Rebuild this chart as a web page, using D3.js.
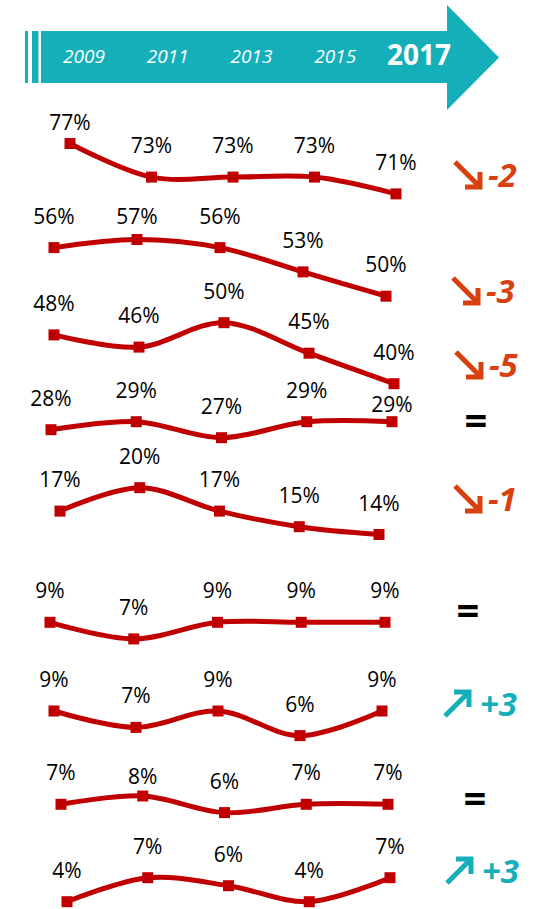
<!DOCTYPE html>
<html>
<head>
<meta charset="utf-8">
<script src="https://cdn.jsdelivr.net/npm/d3@7"></script>
<style>
  html, body { margin: 0; padding: 0; background: #fff; }
  svg { display: block; font-family: 'Open Sans', sans-serif; }
</style>
</head>
<body>
<svg id="chart" width="534" height="909"></svg>
<script>
const years = ['2009', '2011', '2013', '2015', '2017'];

const row1 = [77, 73, 73, 73, 71];
const row2 = [56, 57, 56, 53, 50];
const row3 = [48, 46, 50, 45, 40];
const row4 = [28, 29, 27, 29, 29];
const row5 = [17, 20, 17, 15, 14];
const row6 = [9, 7, 9, 9, 9];
const row7 = [9, 7, 9, 6, 9];
const row8 = [7, 8, 6, 7, 7];
const row9 = [4, 7, 6, 4, 7];
const rows = [row1, row2, row3, row4, row5, row6, row7, row8, row9];

const changes = ['-2', '-3', '-5', '=', '-1', '=', '+3', '=', '+3'];

// layout of each small chart: x span, y of its highest value, px per point
const rowLeft = [70, 54, 54, 51, 60, 50, 54, 61, 67];
const rowRight = [396, 386, 394, 392, 379, 385, 382, 388, 390];
const rowTop = [143.5, 239.5, 322.7, 421.7, 487.7, 622.3, 711, 796, 877.7];
const rowStep = [8.4, 8.1, 6.1, 8, 7.8, 8.3, 8.2, 8.3, 8];
// labels sit 24px above the point, except a few moved by hand
const labelLift = [[14, 24, 24, 24, 24], [24, 16, 24, 24, 24], null, [24, 24, 24, 24, 10],
  null, null, null, [24, 12, 24, 24, 24], null];
// trend badges on the right
const badgeX = [455, 453, 456, 476, 455, 468, 445, 475, 447];
const badgeY = [187, 303, 377, 420.5, 511, 611, 716, 798.5, 883];

const red = '#c00000';
const down = '#d8400f';
const teal = '#14afb8';

const svg = d3.select('#chart');

// header arrow
const head = svg.append('g');
head.append('rect').attr('x', 25).attr('y', 31).attr('width', 3).attr('height', 52).attr('fill', teal);
head.append('rect').attr('x', 32).attr('y', 31).attr('width', 6.5).attr('height', 52).attr('fill', teal);
head.append('path')
  .attr('d', 'M41,31 H447 V5 L499,57.5 L447,110 V83 H41 Z')
  .attr('fill', teal);

let yearX = d3.scalePoint().domain(years).range([84, 419]);
years.forEach((yr, i) => {
  const last = i === years.length - 1;
  head.append('text')
    .attr('x', yearX(yr))
    .attr('y', last ? 65 : 63)
    .attr('text-anchor', 'middle')
    .attr('fill', '#fff')
    .attr('font-size', last ? 28 : 19)
    .attr('font-weight', last ? 700 : 400)
    .attr('font-style', last ? 'normal' : 'italic')
    .text(yr);
});

// one small line chart per row
rows.forEach((values, r) => {
  const top = d3.max(values);
  const x = d3.scalePoint().domain(years).range([rowLeft[r], rowRight[r]]);
  const y = d3.scaleLinear().domain([top, top - 1]).range([rowTop[r], rowTop[r] + rowStep[r]]);

  const line = d3.line()
    .x((d, i) => x(years[i]))
    .y((d) => y(d))
    .curve(d3.curveCatmullRom.alpha(0.5));

  const g = svg.append('g');
  g.append('path')
    .attr('d', line(values))
    .attr('fill', 'none')
    .attr('stroke', red)
    .attr('stroke-width', 5);

  g.selectAll('rect')
    .data(values)
    .join('rect')
    .attr('x', (d, i) => x(years[i]) - 5.5)
    .attr('y', (d) => y(d) - 5.5)
    .attr('width', 11)
    .attr('height', 11)
    .attr('fill', red);

  g.selectAll('text')
    .data(values)
    .join('text')
    .attr('x', (d, i) => x(years[i]))
    .attr('y', (d, i) => y(d) - (labelLift[r] ? labelLift[r][i] : 24))
    .attr('text-anchor', 'middle')
    .attr('font-size', 21)
    .attr('fill', '#000')
    .text((d) => `${d}%`);

  // trend badge
  const c = changes[r];
  const bx = badgeX[r];
  const by = badgeY[r];
  if (c === '=') {
    svg.append('text')
      .attr('x', bx)
      .attr('y', by + 14)
      .attr('text-anchor', 'middle')
      .attr('font-size', 40)
      .attr('font-weight', 700)
      .attr('fill', '#000')
      .text('=');
  } else {
    const up = c.startsWith('+');
    const col = up ? teal : down;
    const arrow = up
      ? `M${bx},${by} L${bx + 24},${by - 24} M${bx + 9},${by - 24} H${bx + 24} V${by - 9}`
      : `M${bx},${by - 25} L${bx + 25},${by} M${bx + 25},${by - 15} V${by} H${bx + 10}`;
    svg.append('path')
      .attr('d', arrow)
      .attr('fill', 'none')
      .attr('stroke', col)
      .attr('stroke-width', 5)
      .attr('stroke-linejoin', 'miter');
    svg.append('text')
      .attr('x', bx + (up ? 35 : 33))
      .attr('y', by)
      .attr('font-size', 33)
      .attr('font-weight', 700)
      .attr('font-style', 'italic')
      .attr('fill', col)
      .text(c);
  }
});
</script>
</body>
</html>
